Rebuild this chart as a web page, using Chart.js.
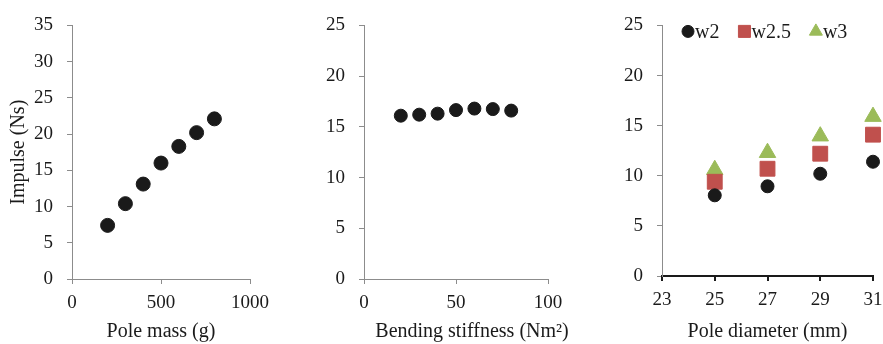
<!DOCTYPE html>
<html>
<head>
<meta charset="utf-8">
<script src="https://cdn.jsdelivr.net/npm/chart.js@4"></script>
<style>
  html, body { margin: 0; padding: 0; background: #fff; }
  body { width: 883px; height: 344px; position: relative; overflow: hidden; }
  .panel { position: absolute; top: 0; height: 344px; }
</style>
</head>
<body>
<div class="panel" style="left:0;width:295px"><canvas id="massChart" width="295" height="344"></canvas></div>
<div class="panel" style="left:295px;width:295px"><canvas id="stiffChart" width="295" height="344"></canvas></div>
<div class="panel" style="left:590px;width:310px"><canvas id="diamChart" width="310" height="344"></canvas></div>
<script>
// panel 1: impulse vs pole mass
const massX = [200, 300, 400, 500, 600, 700, 800];
const massImpulse = [7.4, 10.4, 13.1, 16.0, 18.3, 20.2, 22.1];

// panel 2: impulse vs bending stiffness
const stiffX = [20, 30, 40, 50, 60, 70, 80];
const stiffImpulse = [16.1, 16.2, 16.3, 16.65, 16.8, 16.75, 16.6];

// panel 3: impulse vs pole diameter, three wall thicknesses
const diameters = [25, 27, 29, 31];
const seriesNames = ['w2', 'w2.5', 'w3'];
const w2Impulse = [8.05, 8.95, 10.2, 11.4];
const w25Impulse = [9.4, 10.7, 12.2, 14.1];
const w3Impulse = [10.6, 12.3, 13.95, 15.9];

const FONT = "'Liberation Serif', 'Times New Roman', serif";
const AXIS_GREY = '#8c8c8c';
const TEXT = '#1a1a1a';
const colors = { black: '#1a1a1a', red: '#c0504d', green: '#9bbb59' };

Chart.defaults.font.family = FONT;
Chart.defaults.font.size = 19;
Chart.defaults.color = TEXT;

function toPoints(xs, ys) {
  return xs.map((x, i) => ({ x: x, y: ys[i] }));
}

function axis(opts) {
  const lineColor = opts.lineColor || AXIS_GREY;
  const lineWidth = opts.lineWidth || 1;
  return {
    type: 'linear',
    position: opts.position,
    min: opts.min,
    max: opts.max,
    border: { display: true, color: lineColor, width: lineWidth },
    grid: {
      drawOnChartArea: false,
      drawTicks: true,
      tickLength: 5,
      color: lineColor,
      lineWidth: lineWidth
    },
    ticks: {
      stepSize: opts.step,
      padding: opts.tickPad,
      color: TEXT,
      font: { size: 19 },
      callback: (v) => String(v)   // no thousands separator
    },
    title: {
      display: !!opts.title,
      text: opts.title || '',
      color: TEXT,
      font: { size: 20 },
      padding: { top: 3, bottom: 0 }
    },
    afterFit: function (scale) {
      if (opts.fitWidth) scale.width = opts.fitWidth;
      if (opts.fitHeight) scale.height = opts.fitHeight;
    }
  };
}

// x title drawn by hand where it is wider than the plot (Chart.js would squeeze it)
function freeTitle(text, dx, y) {
  return {
    id: 'freeTitle',
    afterDraw(chart) {
      const a = chart.chartArea, ctx = chart.ctx;
      ctx.save();
      ctx.font = '20px ' + FONT;
      ctx.fillStyle = TEXT;
      ctx.textAlign = 'center';
      ctx.textBaseline = 'middle';
      ctx.fillText(text, (a.left + a.right) / 2 + dx, y);
      ctx.restore();
    }
  };
}

// one-row legend inside the top of the plot
const inlineLegend = {
  id: 'inlineLegend',
  afterDraw(chart) {
    const ctx = chart.ctx, a = chart.chartArea;
    const cy = a.top + 6;
    let x = a.left + 20;
    ctx.save();
    ctx.font = '20px ' + FONT;
    ctx.textBaseline = 'middle';
    ctx.textAlign = 'left';
    chart.data.datasets.forEach((ds) => {
      const r = ds.legendRadius;
      ctx.fillStyle = ds.backgroundColor;
      ctx.strokeStyle = ds.borderColor;
      ctx.lineWidth = 1;
      Chart.helpers.drawPoint(ctx, { pointStyle: ds.pointStyle, radius: r, rotation: 0, borderWidth: 1 }, x + 6, cy);
      ctx.fillStyle = TEXT;
      ctx.fillText(ds.label, x + 13, cy + 1);
      x += 13 + ctx.measureText(ds.label).width + 19;
    });
    ctx.restore();
  }
};

function makeChart(id, datasets, xAxis, yAxis, padding, plugins) {
  return new Chart(document.getElementById(id), {
    type: 'scatter',
    data: { datasets: datasets },
    options: {
      responsive: false,
      animation: false,
      layout: { padding: padding },
      scales: { x: xAxis, y: yAxis },
      plugins: {
        legend: { display: false },
        tooltip: { enabled: false }
      }
    },
    plugins: plugins || []
  });
}

// Pole mass
makeChart('massChart',
  [{
    data: toPoints(massX, massImpulse),
    pointStyle: 'circle', pointRadius: 7,
    backgroundColor: colors.black, borderColor: colors.black, clip: false
  }],
  axis({ position: 'bottom', min: 0, max: 1000, step: 500, tickPad: 8, title: 'Pole mass (g)', fitHeight: 65 }),
  axis({ position: 'left', min: 0, max: 35, step: 5, tickPad: 14, title: 'Impulse (Ns)', fitWidth: 68 }),
  { left: 4, top: 24, right: 45, bottom: 0 }
);

// Bending stiffness
makeChart('stiffChart',
  [{
    data: toPoints(stiffX, stiffImpulse),
    pointStyle: 'circle', pointRadius: 6.5,
    backgroundColor: colors.black, borderColor: colors.black, clip: false
  }],
  axis({ position: 'bottom', min: 0, max: 100, step: 50, tickPad: 8, fitHeight: 65 }),
  axis({ position: 'left', min: 0, max: 25, step: 5, tickPad: 14, fitWidth: 65 }),
  { left: 4, top: 23, right: 42, bottom: 0 },
  [freeTitle('Bending stiffness (Nm\u00b2)', 16, 332)]
);

// Pole diameter
makeChart('diamChart',
  [
    { label: seriesNames[0], data: toPoints(diameters, w2Impulse), pointStyle: 'circle', pointRadius: 6.5, legendRadius: 6,
      backgroundColor: colors.black, borderColor: colors.black, clip: false },
    { label: seriesNames[1], data: toPoints(diameters, w25Impulse), pointStyle: 'rect', pointRadius: 10.5, legendRadius: 8.5,
      backgroundColor: colors.red, borderColor: colors.red, clip: false },
    { label: seriesNames[2], data: toPoints(diameters, w3Impulse), pointStyle: 'triangle', pointRadius: 9.5, legendRadius: 7.5,
      backgroundColor: colors.green, borderColor: colors.green, clip: false }
  ],
  axis({ position: 'bottom', min: 23, max: 31, step: 2, tickPad: 8, title: 'Pole diameter (mm)', fitHeight: 68,
         lineColor: '#1a1a1a', lineWidth: 2 }),
  axis({ position: 'left', min: 0, max: 25, step: 5, tickPad: 14, fitWidth: 68 }),
  { left: 4, top: 18, right: 27, bottom: 0 },
  [inlineLegend]
);
</script>
</body>
</html>
